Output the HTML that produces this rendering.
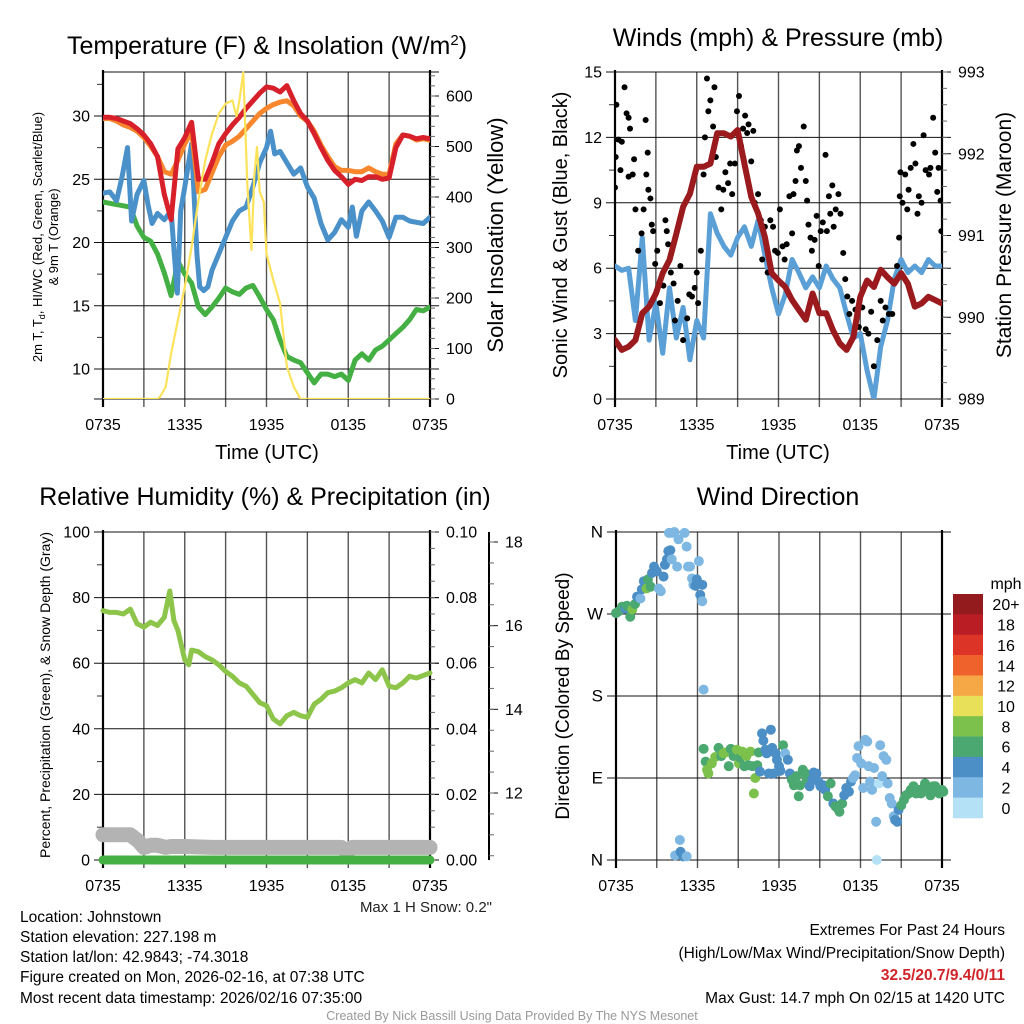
<!DOCTYPE html>
<html><head><meta charset="utf-8"><title>Johnstown Meteogram</title>
<style>
html,body{margin:0;padding:0;background:#fff;}
svg{display:block;font-family:"Liberation Sans",Arial,sans-serif;}
</style></head>
<body>
<svg id="chart" xmlns="http://www.w3.org/2000/svg" width="1024" height="1024" viewBox="0 0 1024 1024">
<rect x="0" y="0" width="1024" height="1024" fill="#fff"/>
<text x="267" y="54" font-size="25" text-anchor="middle">Temperature (F) &amp; Insolation (W/m<tspan font-size="15" dy="-9">2</tspan><tspan dy="9">)</tspan></text>
<text x="778" y="46" font-size="25" text-anchor="middle">Winds (mph) &amp; Pressure (mb)</text>
<text x="265" y="505" font-size="25" text-anchor="middle">Relative Humidity (%) &amp; Precipitation (in)</text>
<text x="778" y="505" font-size="25" text-anchor="middle">Wind Direction</text>

<text x="267" y="459" font-size="20" text-anchor="middle">Time (UTC)</text>
<text x="778" y="459" font-size="20" text-anchor="middle">Time (UTC)</text>

<g transform="translate(42,237) rotate(-90)">
<text x="0" y="0" font-size="13" text-anchor="middle">2m T, T<tspan font-size="9" dy="3">d</tspan><tspan dy="-3">, HI/WC (Red, Green, Scarlet/Blue)</tspan></text>
<text x="0" y="16" font-size="13" text-anchor="middle">&amp; 9m T (Orange)</text>
</g>
<text transform="translate(503,235) rotate(-90)" font-size="22" text-anchor="middle">Solar Insolation (Yellow)</text>
<text transform="translate(567,235) rotate(-90)" font-size="20" text-anchor="middle">Sonic Wind &amp; Gust (Blue, Black)</text>
<text transform="translate(1011,235) rotate(-90)" font-size="21" text-anchor="middle">Station Pressure (Maroon)</text>
<text transform="translate(50,695) rotate(-90)" font-size="14" text-anchor="middle">Percent, Precipitation (Green), &amp; Snow Depth (Gray)</text>
<text transform="translate(569,696) rotate(-90)" font-size="19" text-anchor="middle">Direction (Colored By Speed)</text>

<text x="492" y="912" font-size="15" text-anchor="end" fill="#222">Max 1 H Snow: 0.2"</text>
<g font-size="15.5" fill="#000">
<text x="20" y="922">Location: Johnstown</text>
<text x="20" y="942">Station elevation: 227.198 m</text>
<text x="20" y="962">Station lat/lon: 42.9843; -74.3018</text>
<text x="20" y="982">Figure created on Mon, 2026-02-16, at 07:38 UTC</text>
<text x="20" y="1003">Most recent data timestamp: 2026/02/16 07:35:00</text>
</g>
<g font-size="15.5" text-anchor="end">
<text x="1005" y="935">Extremes For Past 24 Hours</text>
<text x="1005" y="958">(High/Low/Max Wind/Precipitation/Snow Depth)</text>
<text x="1005" y="980" fill="#d1242a" font-weight="bold">32.5/20.7/9.4/0/11</text>
<text x="1005" y="1003">Max Gust: 14.7 mph On 02/15 at 1420 UTC</text>
</g>
<text x="512" y="1020" font-size="12.5" text-anchor="middle" fill="#999">Created By Nick Bassill Using Data Provided By The NYS Mesonet</text>
<g id="plots"></g>
</svg>
<script>
// ---- data (time in hours since 0735 UTC) ----
var timeLabels = ["0735","1335","1935","0135","0735"];
var halfHours = [0,0.5,1,1.5,2,2.5,3,3.5,4,4.5,5,5.5,6,6.5,7,7.5,8,8.5,9,9.5,10,10.5,11,11.5,12,12.5,13,13.5,14,14.5,15,15.5,16,16.5,17,17.5,18,18.5,19,19.5,20,20.5,21,21.5,22,22.5,23,23.5,24];
var tempRed = [29.9,29.9,29.8,29.6,29.4,29.0,28.5,27.8,26.8,23.8,21.8,27.4,28.3,29.5,25.0,25.0,26.3,27.8,28.6,29.3,29.9,30.6,31.2,31.8,32.3,32.2,31.9,32.4,31.2,30.2,29.6,28.6,27.5,26.5,25.7,25.2,24.6,25.0,24.9,25.2,25.2,25.0,25.1,27.5,28.5,28.4,28.2,28.3,28.2];
var tempOrange = [29.8,29.8,29.6,29.3,29.1,28.8,28.3,27.6,26.8,25.6,25.4,26.5,27.8,28.8,24.0,24.2,25.5,26.8,27.7,28.0,28.4,29.0,29.6,30.2,30.6,30.9,31.1,31.2,30.8,30.0,29.6,28.8,27.7,26.8,26.0,25.7,25.7,25.6,25.6,25.9,25.6,25.4,25.4,27.8,28.5,28.4,28.1,28.2,28.1];
var tempGreen = [23.2,23.1,23.0,22.9,22.8,21.3,20.4,20.1,19.1,17.6,15.8,18.5,17.5,16.8,14.9,14.3,14.9,15.6,16.4,16.1,15.9,16.4,16.6,15.7,14.7,13.9,12.3,11.0,10.7,10.5,9.7,8.9,9.6,9.6,9.4,9.6,9.1,10.7,11.2,10.7,11.5,11.8,12.3,12.8,13.3,13.9,14.7,14.6,14.9];
var blueTimes = [0,0.5,1,1.4,1.8,2.1,2.5,3,3.3,3.6,4,4.5,5,5.2,5.45,5.7,6,6.5,6.9,7.1,7.4,7.7,8,8.5,9,9.5,10,10.5,11,11.5,12,12.3,12.6,13,13.5,14,14.5,15,15.5,16,16.5,17,17.5,18,18.3,18.6,19,19.5,20,20.5,21,21.5,22,22.5,23,23.5,24];
var tempBlue = [23.9,24.0,23.3,25.2,27.5,21.7,23.8,24.9,23.0,21.5,22.3,21.8,22.5,19.5,16.0,22.5,24.4,27.8,19.0,16.5,16.2,16.5,17.8,19.1,20.4,21.7,22.5,22.8,24.4,26.3,27.5,28.8,27.0,27.2,26.3,25.4,25.9,24.4,23.5,21.5,20.2,20.8,21.8,21.2,22.8,20.5,22.5,23.2,22.5,21.7,20.4,22.0,22.0,21.7,21.6,21.5,22.0];
var solarTimes = [0,4,4.2,4.6,5,5.5,6,6.5,7,7.5,8,8.5,9,9.5,9.8,10,10.3,10.6,10.9,11.1,11.3,11.5,11.8,12,12.5,13,13.5,14,14.5,24];
var solarValues = [0,0,5,24,90,156,222,301,393,472,525,565,585,591,560,590,647,420,295,440,499,410,390,288,235,189,64,24,0,0];
var windSpeed = [6.1,5.9,6.0,3.6,7.4,2.7,4.4,2.1,5.1,2.8,4.2,1.8,3.6,2.8,8.5,7.6,7.0,6.6,7.4,7.9,7.0,8.2,6.6,5.1,3.9,4.8,6.4,5.8,5.1,5.6,5.1,6.1,5.5,5.1,3.9,2.8,3.0,1.3,0.0,2.4,3.6,5.5,6.4,5.8,6.1,5.8,6.4,6.1,6.1];
var pressure = [989.72,989.60,989.64,989.72,990.05,990.13,990.29,990.54,990.70,991.02,991.35,991.51,991.84,991.84,991.88,992.25,992.25,992.21,992.29,991.88,991.47,991.27,990.98,990.54,990.45,990.37,990.21,990.09,989.97,990.29,990.05,990.05,989.84,989.68,989.60,989.76,990.25,990.45,990.37,990.58,990.49,990.41,990.54,990.41,990.13,990.17,990.25,990.21,990.17];
var gustTimes = [0,0.05,0.1,0.25,0.4,0.5,0.7,0.85,1,1.1,1,1.3,1.4,1.5,1.7,1.95,2.1,2.25,2.4,2.3,2.45,2.6,2.7,2.8,2.95,3.1,3.3,3.55,3.7,3.8,3.9,4.1,4.3,4.4,4.6,4.8,5,5.3,5.45,5.65,5.85,6,6.1,6.3,6.5,6.6,6.75,6.85,7,7.2,7.3,7.4,7.6,7.8,7.95,8.1,8.3,8.45,8.6,8.8,8.95,9.1,9.25,9.4,9.55,9.7,9.8,10,10.15,10.25,10.5,10.7,10.8,11,11.2,11.4,11.6,11.75,11.95,12.1,12.3,12.45,12.6,12.8,13,13.1,13.25,13.35,13.5,13.65,13.85,14,14.1,14.2,14.35,14.45,14.65,14.8,14.95,15.1,15.25,15.45,15.55,15.7,15.8,15.95,16.05,16.2,16.4,16.55,16.75,16.9,17.05,17.2,17.4,17.65,17.9,18.15,18.4,18.6,18.8,19,19.25,19.5,19.65,19.85,20.1,20.35,20.7,20.85,20.9,20.95,21.1,21.3,21.45,21.55,21.7,21.9,22.05,22.2,22.3,22.5,22.65,22.8,23.05,23.15,23.35,23.5,23.65,23.75,23.9,23.95];
var gustValues = [9.7,11.1,13.5,11.9,10.5,11.8,14.3,13.1,12.9,12.4,10.2,10.3,11,8.7,6.8,7.6,8.7,12.8,11.3,10.3,9.6,9.2,8,7.7,6.2,6.8,4.4,5.2,8.2,7.7,7.1,5.8,5.3,3.6,4.5,6.1,2.7,3.7,4.8,4.7,5.1,5.8,4.4,6.8,10.3,12,14.7,13.2,13.7,12.5,14.3,11.1,9.7,8.7,9.6,10.4,9.9,10.8,9.4,10.8,13.2,13.9,11.6,12.4,13,12.2,12.6,10.9,12.3,9,9.4,8.2,6.4,7.9,5.8,8.2,7.9,6.8,6.7,8.7,7,6.4,7.1,9.3,7.6,9.4,10,11.4,11.6,10.6,12.5,10,9.1,8,7.4,6.8,7.3,8.4,6.1,7.7,8.1,11.2,7.7,9.3,8.5,9.8,7.9,8.7,9.4,8.5,6.7,5.5,4.7,3.9,4.5,4.1,3.3,4.2,3.2,3,4,1.5,2.7,4.5,3.6,4.2,3.9,3.9,6.1,7.4,9.3,10.4,9,10.3,8.7,9.6,10.6,11.7,10.8,8.5,9.3,9,12.1,10.5,10.3,10.6,12.9,11.3,9.5,10.6,9.1,7.7];
var rhTimes = [0,0.5,1,1.5,2,2.5,3,3.5,4,4.5,4.9,5.2,5.5,6,6.3,6.5,7,7.5,8,8.5,9,9.5,10,10.5,11,11.5,12,12.5,13,13.5,14,14.5,15,15.5,16,16.5,17,17.5,18,18.5,19,19.5,20,20.5,21,21.5,22,22.5,23,24];
var rhValues = [76,75.5,75.5,75,76.5,72,71,72.5,71.5,74,82,73,70,61,59.5,64,63.5,62,61,59.5,57.5,56,54,53,50.5,48,47,43,41.5,44,45,44,43.5,47.5,49,51,51.5,52.5,54,55,54,57,55,58,53,52.5,54,56,55.5,57];
var snowTimes = [0,1,2,2.6,3,3.5,4,4.6,5,6,8,10,12,14,16,17.5,17.9,18.3,19,22,24];
var snowDepth = [11.0,11.0,11.0,10.85,10.7,10.75,10.75,10.7,10.72,10.72,10.7,10.7,10.7,10.7,10.7,10.7,10.6,10.7,10.7,10.7,10.7];
var precipTimes = [0,24];
var precipValues = [0,0];
var dirTimes = [0,0.2,0.45,0.7,0.8,1.05,1.2,1.4,1.55,1.8,1.9,2.05,2.25,2.35,2.55,2.65,2.8,3.0,3.15,3.3,3.5,3.6,3.75,3.85,4.0,4.1,3.9,4.1,4.3,4.5,4.6,5.05,5.2,5.3,5.45,5.6,5.7,5.85,5.95,6.1,6.2,6.35,6.35,6.45,4.35,4.7,4.75,4.95,5.2,
6.45,6.6,6.7,6.8,7.05,7.3,7.55,7.75,7.9,8.05,8.3,8.45,8.65,8.9,9.05,9.15,9.3,9.45,9.6,9.75,9.9,10.05,10.15,10.25,10.4,10.5,10.6,10.75,10.85,11.0,11.1,11.25,11.4,11.5,11.6,11.75,11.85,12.0,12.1,12.3,12.45,12.65,12.8,12.95,13.1,13.3,13.45,13.55,13.75,13.95,14.05,14.25,14.45,14.55,14.75,14.9,15.05,15.25,15.4,15.6,15.8,16.0,16.15,16.3,16.45,16.65,16.8,16.95,17.15,17.3,17.45,17.6,17.75,17.85,18.05,18.2,18.35,18.5,18.6,18.7,18.85,19.0,19.15,19.2,19.35,19.45,19.6,19.7,19.9,20.0,20.15,20.3,20.45,20.55,20.7,20.8,21.0,21.2,21.35,21.55,21.7,21.9,22.1,22.3,22.45,22.65,22.75,22.95,23.15,23.35,23.5,23.65,23.8,24.0,24.1];
var dirDegrees = [271,273,278,276,279,267,275,281,289,287,297,306,298,308,300,315,322,317,298,295,311,324,330,339,340,330,359,359,360,322,352,359,344,322,322,309,302,301,308,328,291,302,284,187,5,22,9,4,4,
122,108,99,95,106,113,123,114,117,118,103,122,114,121,106,112,119,103,114,104,119,103,73,90,104,118,97,139,131,121,117,95,143,123,95,117,110,103,98,126,117,110,95,88,82,92,70,82,99,95,88,81,88,96,95,86,81,82,77,70,84,62,59,57,53,62,71,79,75,86,90,93,112,125,106,79,132,130,103,86,77,101,42,0,84,126,92,114,110,84,68,62,48,44,42,55,60,66,71,73,77,81,73,77,73,79,84,77,71,81,81,77,73,77,75];
var dirSpeed = [6,6,6,5,6,6,8,6,4,3,4,4,8,6,6,4,4,4,3,3,4,4,4,4,4,3,3,2,2,2,2,2,2,2,2,2,2,4,4,2,4,4,2,2,2,2,4,4,2,
6,6,8,8,8,8,6,6,8,8,6,6,6,8,8,6,8,6,8,6,8,6,8,8,6,6,4,4,4,4,4,4,4,4,4,4,4,4,4,6,2,4,4,6,6,6,6,6,6,6,6,4,4,4,4,4,4,4,4,6,6,4,6,6,6,6,4,4,4,4,2,2,2,2,2,2,2,2,2,2,2,2,2,1,1,2,2,2,2,2,2,2,2,4,4,4,6,6,6,6,6,6,6,6,6,6,6,6,6,6,6,6,6,6,6,6,6,4];
var speedBins = ["0","2","4","6","8","10","12","14","16","18","20+"];
var speedColors = ["#b5e1f6","#7eb8e2","#4b8fc6","#4aa870","#7cc14b","#e7e058","#f6a847","#f0622c","#dd3428","#bb1d25","#931a1d"];

// ---- helpers ----
var NS = "http://www.w3.org/2000/svg";
var root = document.getElementById("plots");
function mk(tag, attrs, parent) {
  var e = document.createElementNS(NS, tag);
  for (var k in attrs) e.setAttribute(k, attrs[k]);
  (parent || root).appendChild(e);
  return e;
}
function lin(d0, d1, r0, r1) { return function (v) { return r0 + (v - d0) * (r1 - r0) / (d1 - d0); }; }
function pathFrom(ts, vs, sx, sy) {
  var n = Math.min(ts.length, vs.length), d = "";
  for (var i = 0; i < n; i++) d += (i ? "L" : "M") + sx(ts[i]).toFixed(1) + "," + sy(vs[i]).toFixed(1);
  return d;
}
function drawFrame(P, name) {
  var g = mk("g", {});
  
  
  for (var h = 3; h < 24; h += 3) {
    var x = P.sx(h);
    var vl = mk("line", {x1: x, y1: P.y0, x2: x, y2: P.y1 + 8, stroke: "#555", "stroke-width": 1.4}, g);
    
    
  }
  for (var i = 0; i < P.ticks.length; i++) {
    var y = P.sy(P.ticks[i]);
    var hl = mk("line", {x1: P.x0 - 9, y1: y, x2: P.x1 + 9, y2: y, stroke: "#111", "stroke-width": 1}, g);
    
    
    var tl = mk("text", {x: P.x0 - 13, y: y + 5.5, "font-size": P.tickFont || 16, "text-anchor": "end"}, g);
    tl.textContent = P.tickText[i];
    
    
  }
  if (P.minor) for (var m = 0; m < P.minor.length; m++) {
    var my = P.sy(P.minor[m]);
    var ml = mk("line", {x1: P.x0 - 6, y1: my, x2: P.x0, y2: my, stroke: "#333", "stroke-width": 1}, g);
    
    
  }
  if (P.topLine) {
    var tline = mk("line", {x1: P.x0, y1: P.y0, x2: P.x1 + 9, y2: P.y0, stroke: "#111", "stroke-width": 1}, g);
    
    
  }
  var la = mk("line", {x1: P.x0, y1: P.y0 - 2, x2: P.x0, y2: P.y1 + 8, stroke: "#000", "stroke-width": 2.2}, g);
  
  
  var ra = mk("line", {x1: P.x1, y1: P.y0 - 2, x2: P.x1, y2: P.y1 + 8, stroke: "#000", "stroke-width": 2.2}, g);
  
  
  var bl = mk("line", {x1: P.x0 - 9, y1: P.y1, x2: P.x1 + 9, y2: P.y1, stroke: "#111", "stroke-width": 1}, g);
  
  
  for (var j = 0; j < timeLabels.length; j++) {
    var xt = mk("text", {x: P.sx(j * 6), y: P.labelY, "font-size": 16, "text-anchor": "middle"}, g);
    xt.textContent = timeLabels[j];
    
    
  }
}
function drawRightAxis(x, y0, y1, sy, ticks, minors, fmt, name) {
  var g = mk("g", {});
  
  
  for (var i = 0; i < ticks.length; i++) {
    var y = sy(ticks[i]);
    var t = mk("line", {x1: x, y1: y, x2: x + 9, y2: y, stroke: "#111", "stroke-width": 1}, g);
    
    
    var tx = mk("text", {x: x + 16, y: y + 5.5, "font-size": 16}, g);
    tx.textContent = fmt(ticks[i]);
    
    
  }
  for (var m = 0; m < minors.length; m++) {
    var my = sy(minors[m]);
    if (my < y0 - 0.5 || my > y1 + 0.5) continue;
    var ml = mk("line", {x1: x, y1: my, x2: x + 5, y2: my, stroke: "#666", "stroke-width": 1}, g);
    
    
  }
}
function range(a, b, s) { var r = []; for (var v = a; v <= b + 1e-9; v += s) r.push(Math.round(v * 1000) / 1000); return r; }

// ---- Panel 1: Temperature ----
var P1 = {x0: 103, x1: 430, y0: 72, y1: 399, labelY: 430, topLine: true};
P1.sx = lin(0, 24, P1.x0, P1.x1);
P1.sy = lin(10, 30, 369, 116);
P1.ticks = [10, 15, 20, 25, 30];
P1.tickText = ["10", "15", "20", "25", "30"];
P1.minor = [12.5, 17.5, 22.5, 27.5, 32.5];
drawFrame(P1, "temperature");
var sSolar = lin(0, 600, 399, 96);
drawRightAxis(P1.x1, P1.y0, P1.y1, sSolar, [0, 100, 200, 300, 400, 500, 600], range(0, 640, 20), function (v) { return String(v); }, "solar-right-axis");
var clip1 = mk("clipPath", {id: "c1"}); mk("rect", {x: P1.x0, y: P1.y0 - 3, width: P1.x1 - P1.x0, height: P1.y1 - P1.y0 + 3}, clip1);
var s1 = mk("g", {"clip-path": "url(#c1)", fill: "none", "stroke-linejoin": "round", "stroke-linecap": "round"});


var lGreen = mk("path", {d: pathFrom(halfHours, tempGreen, P1.sx, P1.sy), stroke: "#44b044", "stroke-width": 5}, s1);


var lBlue = mk("path", {d: pathFrom(blueTimes, tempBlue, P1.sx, P1.sy), stroke: "#4a90c9", "stroke-width": 5}, s1);


var lOrange = mk("path", {d: pathFrom(halfHours, tempOrange, P1.sx, P1.sy), stroke: "#f7862d", "stroke-width": 5}, s1);


var lRed = mk("path", {d: pathFrom(halfHours, tempRed, P1.sx, P1.sy), stroke: "#d7202a", "stroke-width": 5}, s1);


var lSolar = mk("path", {d: pathFrom(solarTimes, solarValues, P1.sx, sSolar), stroke: "#fde35a", "stroke-width": 2.2}, s1);



// ---- Panel 2: Winds ----
var P2 = {x0: 615, x1: 942, y0: 72, y1: 399, labelY: 430};
P2.sx = lin(0, 24, P2.x0, P2.x1);
P2.sy = lin(0, 15, 399, 72);
P2.ticks = [0, 3, 6, 9, 12, 15];
P2.tickText = ["0", "3", "6", "9", "12", "15"];
P2.minor = [1.5, 4.5, 7.5, 10.5, 13.5];
drawFrame(P2, "wind");
var sPres = lin(989, 993, 399, 72);
drawRightAxis(P2.x1, P2.y0, P2.y1, sPres, [989, 990, 991, 992, 993], range(989, 993, 0.2), function (v) { return String(v); }, "pressure-right-axis");
var clip2 = mk("clipPath", {id: "c2"}); mk("rect", {x: P2.x0, y: P2.y0 - 5, width: P2.x1 - P2.x0, height: P2.y1 - P2.y0 + 5}, clip2);
var s2 = mk("g", {"clip-path": "url(#c2)", fill: "none", "stroke-linejoin": "round", "stroke-linecap": "round"});


var lWind = mk("path", {d: pathFrom(halfHours, windSpeed, P2.sx, P2.sy), stroke: "#5a9fd6", "stroke-width": 5}, s2);


for (var gi = 0; gi < Math.min(gustTimes.length, gustValues.length); gi++) {
  var gd = mk("circle", {cx: P2.sx(gustTimes[gi]), cy: P2.sy(gustValues[gi]), r: 3, fill: "#000"}, s2);
  
  
}
var lPres = mk("path", {d: pathFrom(halfHours, pressure, P2.sx, sPres), stroke: "#9a1a1e", "stroke-width": 6}, s2);



// ---- Panel 3: Humidity ----
var P3 = {x0: 103, x1: 430, y0: 532, y1: 860, labelY: 891};
P3.sx = lin(0, 24, P3.x0, P3.x1);
P3.sy = lin(0, 100, 860, 532);
P3.ticks = [0, 20, 40, 60, 80, 100];
P3.tickText = ["0", "20", "40", "60", "80", "100"];
P3.minor = [10, 30, 50, 70, 90];
drawFrame(P3, "humidity");
var sPrecip = lin(0, 0.1, 860, 532);
drawRightAxis(P3.x1, P3.y0, P3.y1, sPrecip, [0, 0.02, 0.04, 0.06, 0.08, 0.1], range(0, 0.1, 0.005), function (v) { return v.toFixed(2); }, "precip-right-axis");
var sSnow = lin(12, 18, 793, 542);
var snowAxis = mk("line", {x1: 489, y1: 532, x2: 489, y2: 860, stroke: "#000", "stroke-width": 2});


drawRightAxis(489, 532, 860, sSnow, [12, 14, 16, 18], range(10, 18.5, 0.5), function (v) { return String(v); }, "snow-depth-axis");
var clip3 = mk("clipPath", {id: "c3"}); mk("rect", {x: P3.x0 - 12, y: P3.y0, width: P3.x1 - P3.x0 + 24, height: P3.y1 - P3.y0 + 12}, clip3);
var s3 = mk("g", {"clip-path": "url(#c3)", fill: "none", "stroke-linejoin": "round", "stroke-linecap": "round"});


var lSnow = mk("path", {d: pathFrom(snowTimes, snowDepth, P3.sx, sSnow), stroke: "#b3b3b3", "stroke-width": 15}, s3);


var lPrecip = mk("path", {d: pathFrom(precipTimes, precipValues, P3.sx, sPrecip), stroke: "#44b044", "stroke-width": 9}, s3);


var lRh = mk("path", {d: pathFrom(rhTimes, rhValues, P3.sx, P3.sy), stroke: "#8dc54b", "stroke-width": 5}, s3);



// ---- Panel 4: Wind direction ----
var P4 = {x0: 616, x1: 942, y0: 532, y1: 860, labelY: 891};
P4.sx = lin(0, 24, P4.x0, P4.x1);
P4.sy = lin(0, 360, 860, 532);
P4.ticks = [0, 90, 180, 270, 360];
P4.tickText = ["N", "E", "S", "W", "N"];
P4.tickFont = 17;
drawFrame(P4, "direction");
var s4 = mk("g", {});


for (var di = 0; di < Math.min(dirTimes.length, dirDegrees.length, dirSpeed.length); di++) {
  var bin = Math.min(10, Math.floor(dirSpeed[di] / 2));
  var dp = mk("circle", {cx: P4.sx(dirTimes[di]), cy: P4.sy(dirDegrees[di]), r: 5, fill: speedColors[bin]}, s4);
  
  
}
// colorbar
var cb = mk("g", {});


var cbTop = 594, cbH = 224 / speedBins.length;
for (var ci = 0; ci < speedBins.length; ci++) {
  var idx = speedBins.length - 1 - ci;
  var rc = mk("rect", {x: 953, y: cbTop + ci * cbH, width: 30, height: cbH + 0.3, fill: speedColors[idx]}, cb);
  
  
  var lt = mk("text", {x: 1006, y: cbTop + ci * cbH + cbH / 2 + 6, "font-size": 16, "text-anchor": "middle"}, cb);
  lt.textContent = speedBins[idx];
  
  
}
var mph = mk("text", {x: 1006, y: 589, "font-size": 16, "text-anchor": "middle"}, cb);
mph.textContent = "mph";


</script>
</body></html>
